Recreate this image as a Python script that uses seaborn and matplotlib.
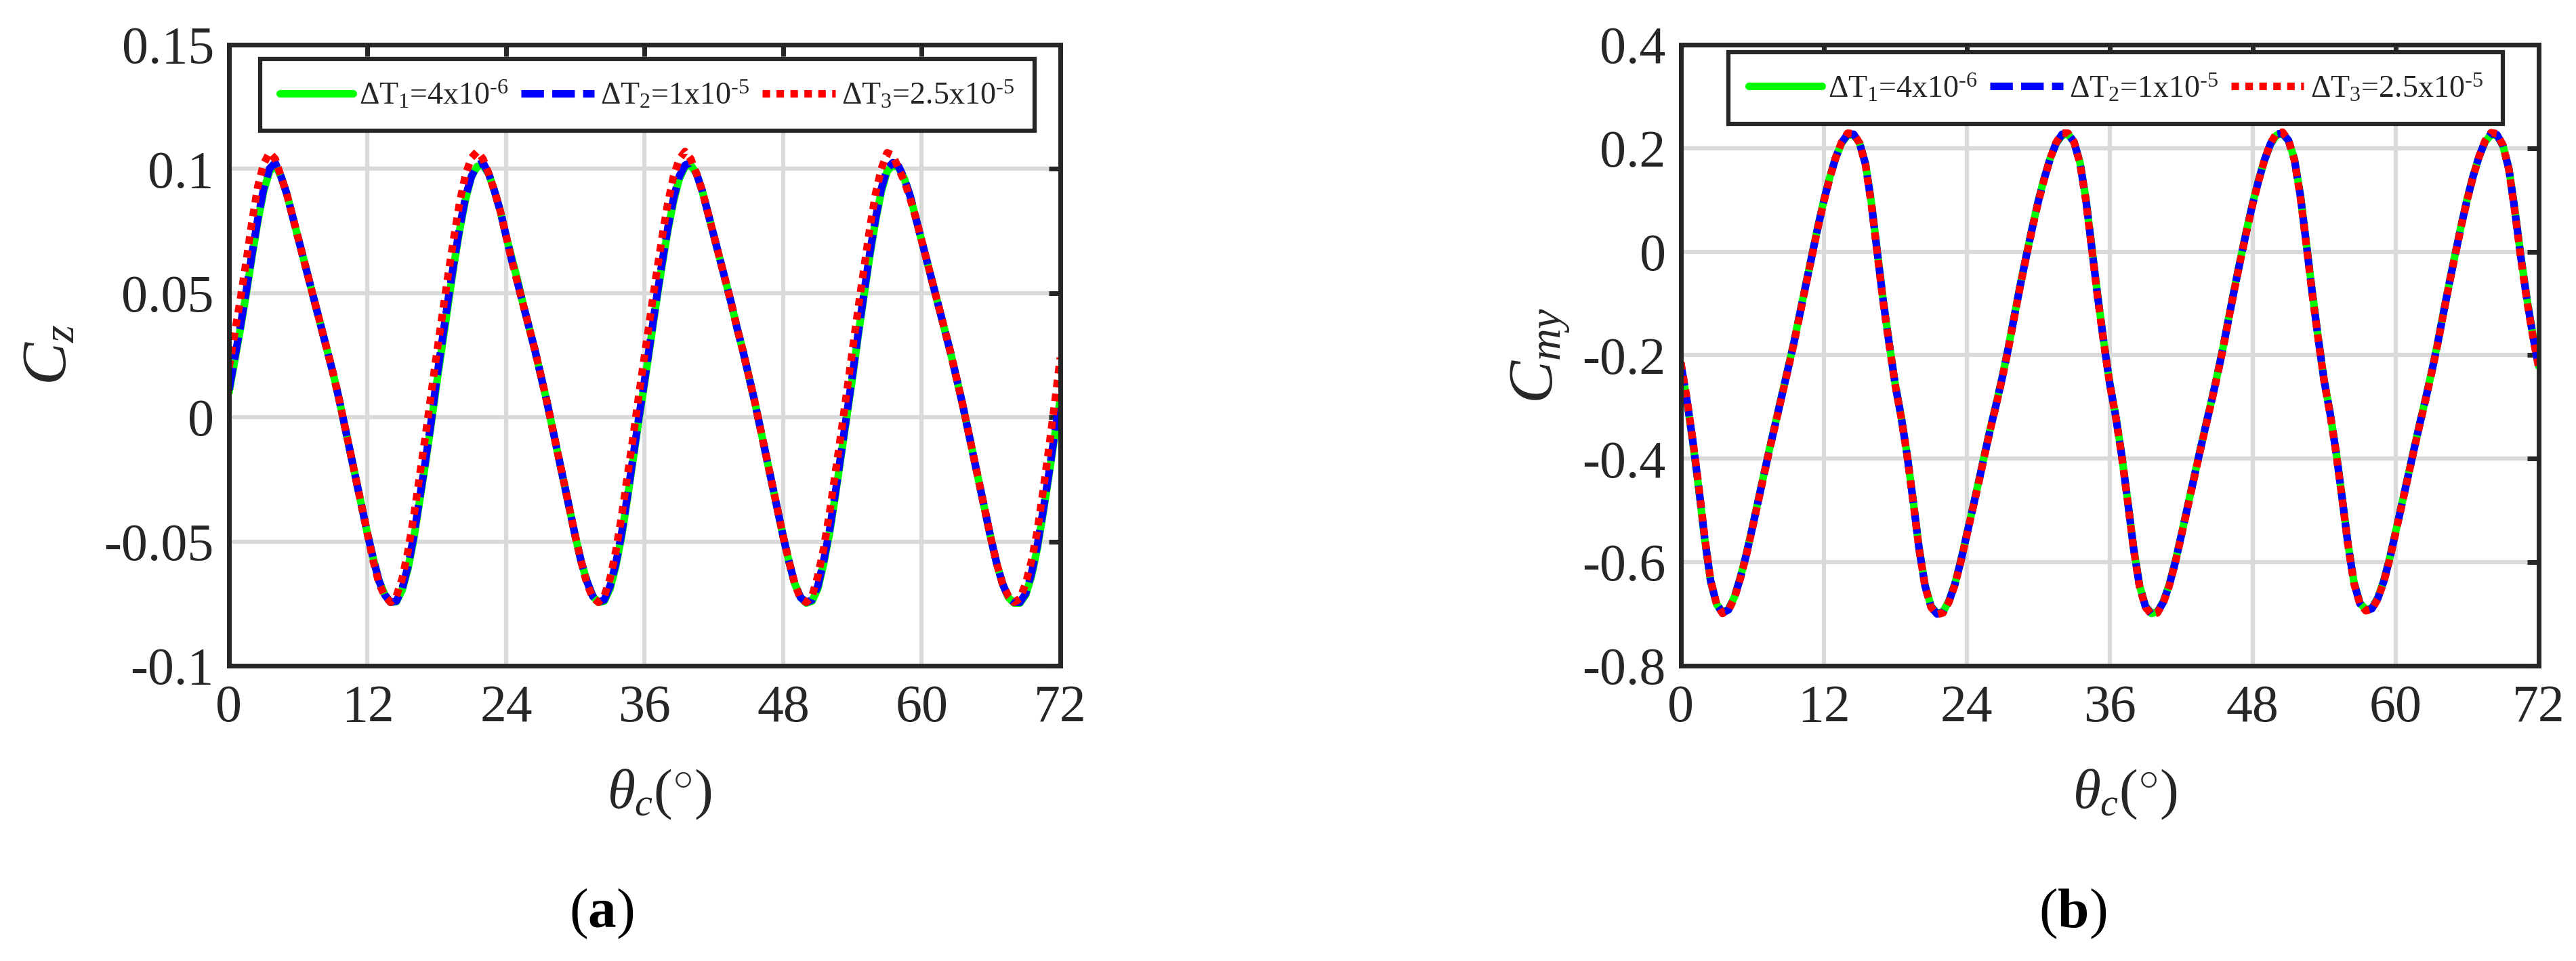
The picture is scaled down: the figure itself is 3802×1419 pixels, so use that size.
import numpy as np
import matplotlib
matplotlib.use("Agg")
import matplotlib.pyplot as plt
import seaborn as sns

# crank angle grid (deg), 0.5 deg steps
THETA = np.arange(0, 72.5, 0.5)

# lift coefficient Cz, one list per time step
cz_dt1 = [
    0.010, 0.023, 0.036, 0.050, 0.065, 0.079, 0.091, 0.099, 0.1015, 0.097, 0.090, 0.081,
    0.072, 0.063, 0.054, 0.045, 0.036, 0.027, 0.018, 0.008, -0.003, -0.014, -0.025, -0.036,
    -0.047, -0.057, -0.066, -0.0715, -0.0745, -0.0742, -0.0695, -0.061, -0.049, -0.034, -0.019, -0.003,
    0.014, 0.030, 0.046, 0.062, 0.076, 0.088, 0.097, 0.101, 0.1015, 0.098, 0.091, 0.083,
    0.073, 0.064, 0.055, 0.045, 0.036, 0.027, 0.017, 0.007, -0.004, -0.015, -0.026, -0.037,
    -0.048, -0.058, -0.066, -0.072, -0.0745, -0.074, -0.069, -0.060, -0.048, -0.033, -0.017, -0.001,
    0.014, 0.030, 0.046, 0.061, 0.075, 0.087, 0.096, 0.101, 0.1015, 0.098, 0.091, 0.082,
    0.073, 0.064, 0.055, 0.046, 0.036, 0.027, 0.017, 0.007, -0.004, -0.015, -0.026, -0.037,
    -0.048, -0.058, -0.067, -0.0725, -0.0748, -0.074, -0.069, -0.059, -0.047, -0.032, -0.016, 0.000,
    0.016, 0.033, 0.049, 0.065, 0.079, 0.091, 0.099, 0.1015, 0.1005, 0.096, 0.089, 0.080,
    0.071, 0.062, 0.053, 0.044, 0.035, 0.026, 0.016, 0.006, -0.005, -0.016, -0.027, -0.038,
    -0.049, -0.059, -0.067, -0.0725, -0.0748, -0.0748, -0.0715, -0.064, -0.053, -0.039, -0.024, -0.008,
    0.007,
]
cz_dt2 = [
    0.011, 0.024, 0.037, 0.051, 0.066, 0.080, 0.092, 0.100, 0.1025, 0.097, 0.090, 0.081,
    0.072, 0.063, 0.054, 0.045, 0.036, 0.027, 0.018, 0.008, -0.003, -0.014, -0.025, -0.036,
    -0.047, -0.057, -0.066, -0.0715, -0.0745, -0.074, -0.069, -0.060, -0.048, -0.033, -0.018, -0.002,
    0.016, 0.032, 0.048, 0.063, 0.077, 0.089, 0.097, 0.1015, 0.1025, 0.098, 0.091, 0.083,
    0.073, 0.063, 0.054, 0.045, 0.036, 0.027, 0.017, 0.007, -0.004, -0.015, -0.026, -0.037,
    -0.048, -0.058, -0.066, -0.072, -0.0745, -0.0735, -0.068, -0.059, -0.047, -0.032, -0.016, 0.000,
    0.015, 0.031, 0.047, 0.062, 0.076, 0.088, 0.097, 0.1015, 0.1025, 0.098, 0.091, 0.082,
    0.073, 0.064, 0.055, 0.046, 0.036, 0.027, 0.017, 0.007, -0.004, -0.015, -0.026, -0.037,
    -0.048, -0.058, -0.067, -0.0725, -0.0745, -0.0735, -0.068, -0.058, -0.046, -0.031, -0.015, 0.001,
    0.017, 0.034, 0.050, 0.066, 0.080, 0.092, 0.100, 0.1025, 0.101, 0.096, 0.089, 0.080,
    0.071, 0.062, 0.053, 0.044, 0.035, 0.026, 0.016, 0.006, -0.005, -0.016, -0.027, -0.038,
    -0.049, -0.059, -0.067, -0.0725, -0.0745, -0.0745, -0.071, -0.063, -0.052, -0.038, -0.023, -0.007,
    0.008,
]
cz_dt3 = [
    0.020, 0.034, 0.048, 0.063, 0.079, 0.093, 0.102, 0.1065, 0.104, 0.097, 0.090, 0.081,
    0.072, 0.063, 0.054, 0.045, 0.036, 0.027, 0.018, 0.008, -0.003, -0.014, -0.025, -0.036,
    -0.047, -0.058, -0.067, -0.072, -0.0745, -0.072, -0.065, -0.054, -0.040, -0.024, -0.008, 0.009,
    0.026, 0.042, 0.058, 0.073, 0.087, 0.098, 0.1045, 0.107, 0.104, 0.098, 0.091, 0.083,
    0.073, 0.063, 0.054, 0.045, 0.036, 0.027, 0.017, 0.007, -0.004, -0.015, -0.026, -0.037,
    -0.048, -0.058, -0.067, -0.0725, -0.0745, -0.072, -0.065, -0.054, -0.040, -0.024, -0.008, 0.009,
    0.025, 0.041, 0.057, 0.072, 0.086, 0.097, 0.104, 0.107, 0.104, 0.098, 0.091, 0.082,
    0.073, 0.064, 0.055, 0.046, 0.036, 0.027, 0.017, 0.007, -0.004, -0.015, -0.026, -0.037,
    -0.048, -0.058, -0.067, -0.073, -0.0745, -0.072, -0.064, -0.053, -0.039, -0.023, -0.007, 0.010,
    0.027, 0.044, 0.060, 0.076, 0.090, 0.100, 0.1065, 0.1055, 0.100, 0.095, 0.088, 0.080,
    0.071, 0.062, 0.053, 0.044, 0.035, 0.026, 0.016, 0.006, -0.005, -0.016, -0.027, -0.038,
    -0.049, -0.059, -0.067, -0.072, -0.0745, -0.073, -0.067, -0.058, -0.046, -0.030, -0.013, 0.005,
    0.024,
]

# pitching moment coefficient Cmy
cmy_dt1 = [
    -0.218, -0.287, -0.367, -0.457, -0.555, -0.637, -0.681, -0.697, -0.691, -0.667, -0.629, -0.584,
    -0.533, -0.480, -0.427, -0.375, -0.325, -0.275, -0.225, -0.174, -0.118, -0.062, -0.007, 0.048,
    0.099, 0.144, 0.182, 0.210, 0.225, 0.226, 0.210, 0.170, 0.094, -0.002, -0.096, -0.179,
    -0.257, -0.319, -0.393, -0.481, -0.573, -0.645, -0.685, -0.699, -0.696, -0.675, -0.642, -0.597,
    -0.546, -0.495, -0.444, -0.391, -0.339, -0.291, -0.240, -0.184, -0.123, -0.063, -0.007, 0.047,
    0.098, 0.142, 0.180, 0.209, 0.225, 0.227, 0.212, 0.173, 0.102, 0.008, -0.087, -0.174,
    -0.254, -0.317, -0.392, -0.480, -0.572, -0.645, -0.685, -0.699, -0.696, -0.676, -0.643, -0.599,
    -0.548, -0.496, -0.444, -0.392, -0.341, -0.292, -0.241, -0.186, -0.126, -0.067, -0.011, 0.043,
    0.094, 0.139, 0.178, 0.208, 0.225, 0.228, 0.215, 0.179, 0.110, 0.017, -0.078, -0.167,
    -0.249, -0.312, -0.387, -0.474, -0.565, -0.639, -0.679, -0.692, -0.689, -0.669, -0.636, -0.592,
    -0.541, -0.489, -0.437, -0.385, -0.334, -0.285, -0.234, -0.179, -0.119, -0.060, -0.004, 0.051,
    0.102, 0.146, 0.184, 0.212, 0.226, 0.225, 0.205, 0.161, 0.082, -0.008, -0.088, -0.159,
    -0.221,
]
cmy_dt2 = [
    -0.216, -0.285, -0.365, -0.455, -0.553, -0.636, -0.681, -0.698, -0.692, -0.668, -0.630, -0.585,
    -0.534, -0.481, -0.428, -0.376, -0.326, -0.276, -0.226, -0.175, -0.119, -0.063, -0.008, 0.047,
    0.098, 0.143, 0.182, 0.211, 0.227, 0.227, 0.210, 0.169, 0.092, -0.004, -0.098, -0.180,
    -0.258, -0.320, -0.394, -0.482, -0.574, -0.646, -0.686, -0.700, -0.697, -0.676, -0.643, -0.598,
    -0.547, -0.496, -0.445, -0.392, -0.340, -0.292, -0.241, -0.185, -0.124, -0.064, -0.008, 0.046,
    0.097, 0.141, 0.180, 0.210, 0.227, 0.228, 0.212, 0.172, 0.100, 0.006, -0.089, -0.175,
    -0.255, -0.318, -0.393, -0.481, -0.573, -0.646, -0.686, -0.700, -0.697, -0.677, -0.644, -0.600,
    -0.549, -0.497, -0.445, -0.393, -0.342, -0.293, -0.242, -0.187, -0.127, -0.068, -0.012, 0.042,
    0.093, 0.138, 0.178, 0.209, 0.227, 0.229, 0.215, 0.178, 0.108, 0.015, -0.080, -0.168,
    -0.250, -0.313, -0.388, -0.475, -0.566, -0.640, -0.680, -0.693, -0.690, -0.670, -0.637, -0.593,
    -0.542, -0.490, -0.438, -0.386, -0.335, -0.286, -0.235, -0.180, -0.120, -0.061, -0.005, 0.050,
    0.101, 0.146, 0.184, 0.213, 0.228, 0.226, 0.205, 0.160, 0.080, -0.010, -0.090, -0.160,
    -0.222,
]
cmy_dt3 = [
    -0.214, -0.283, -0.363, -0.453, -0.551, -0.635, -0.681, -0.699, -0.693, -0.669, -0.631, -0.586,
    -0.535, -0.482, -0.429, -0.377, -0.327, -0.277, -0.227, -0.176, -0.120, -0.064, -0.009, 0.046,
    0.097, 0.142, 0.182, 0.212, 0.229, 0.228, 0.210, 0.168, 0.090, -0.006, -0.100, -0.181,
    -0.259, -0.321, -0.395, -0.483, -0.575, -0.647, -0.687, -0.701, -0.698, -0.677, -0.644, -0.599,
    -0.548, -0.497, -0.446, -0.393, -0.341, -0.293, -0.242, -0.186, -0.125, -0.065, -0.009, 0.045,
    0.096, 0.140, 0.180, 0.211, 0.229, 0.229, 0.212, 0.171, 0.098, 0.004, -0.091, -0.176,
    -0.256, -0.319, -0.394, -0.482, -0.574, -0.647, -0.687, -0.701, -0.698, -0.678, -0.645, -0.601,
    -0.550, -0.498, -0.446, -0.394, -0.343, -0.294, -0.243, -0.188, -0.128, -0.069, -0.013, 0.041,
    0.092, 0.137, 0.178, 0.210, 0.229, 0.231, 0.216, 0.177, 0.106, 0.013, -0.082, -0.169,
    -0.251, -0.314, -0.389, -0.476, -0.567, -0.641, -0.681, -0.694, -0.691, -0.671, -0.638, -0.594,
    -0.543, -0.491, -0.439, -0.387, -0.336, -0.287, -0.236, -0.181, -0.121, -0.062, -0.006, 0.049,
    0.100, 0.145, 0.184, 0.214, 0.230, 0.228, 0.206, 0.159, 0.078, -0.012, -0.092, -0.162,
    -0.223,
]

LABELS = [r"$\Delta\mathrm{T}_1$=4x10$^{\text{-}6}$",
          r"$\Delta\mathrm{T}_2$=1x10$^{\text{-}5}$",
          r"$\Delta\mathrm{T}_3$=2.5x10$^{\text{-}5}$"]
COLORS = ["#00ff00", "#0000ff", "#ff0000"]
STYLES = ["-", (0, (3.0, 1.1)), (0, (1.0, 0.85))]

X_TICKS = [0, 12, 24, 36, 48, 60, 72]
CZ_TICKS = [-0.1, -0.05, 0, 0.05, 0.1, 0.15]
CZ_TICKLABELS = ["-0.1", "-0.05", "0", "0.05", "0.1", "0.15"]
CMY_TICKS = [-0.8, -0.6, -0.4, -0.2, 0, 0.2, 0.4]
CMY_TICKLABELS = ["-0.8", "-0.6", "-0.4", "-0.2", "0", "0.2", "0.4"]

sns.set_style("white")
plt.rcParams["font.family"] = ["Liberation Serif", "DejaVu Serif"]
plt.rcParams["mathtext.fontset"] = "custom"
plt.rcParams["mathtext.rm"] = "Liberation Serif"
plt.rcParams["mathtext.it"] = "Liberation Serif:italic"
plt.rcParams["mathtext.bf"] = "Liberation Serif:bold"

DARK = "#262626"

fig = plt.figure(figsize=(38.02, 14.19), dpi=100)
ax_a = fig.add_axes([0.0889, 0.3073, 0.3227, 0.6462])
ax_b = fig.add_axes([0.6525, 0.3073, 0.3330, 0.6462])

panels = [
    (ax_a, [cz_dt1, cz_dt2, cz_dt3], CZ_TICKS, CZ_TICKLABELS, r"$C_z$",
     (-0.18, 0.5), (0.503, 0.977)),
    (ax_b, [cmy_dt1, cmy_dt2, cmy_dt3], CMY_TICKS, CMY_TICKLABELS, r"$C_{my}$",
     (-0.127, 0.5), (0.507, 0.988)),
]

for ax, curves, yt, ytl, ylab, ylab_pos, leg_pos in panels:
    for y, lab, col, ls in zip(curves, LABELS, COLORS, STYLES):
        sns.lineplot(x=THETA, y=y, ax=ax, color=col, linestyle=ls, linewidth=8,
                     label=lab, estimator=None, sort=False)

    ax.set_xlim(0, 72)
    ax.set_ylim(yt[0], yt[-1])
    ax.set_xticks(X_TICKS)
    ax.set_xticklabels([str(t) for t in X_TICKS])
    ax.set_yticks(yt)
    ax.set_yticklabels(ytl)
    ax.set_axisbelow(True)
    ax.grid(True, color="#dadada", linewidth=4.5)
    for sp in ax.spines.values():
        sp.set_visible(True)
        sp.set_linewidth(5)
        sp.set_color(DARK)
    ax.tick_params(direction="in", length=12, width=5, color=DARK, labelcolor=DARK,
                   top=True, right=True, labelsize=56)
    ax.tick_params(axis="x", pad=20)
    ax.tick_params(axis="y", pad=16)

    ax.set_ylabel(ylab, fontsize=68, color=DARK)
    ax.yaxis.set_label_coords(*ylab_pos)
    ax.set_xlabel(r"$\theta_c(^{\circ})$", fontsize=60, color=DARK)
    ax.xaxis.set_label_coords(0.518, -0.165)

    leg = ax.legend(loc="upper center", bbox_to_anchor=leg_pos, ncol=3, fontsize=33,
                    frameon=True, fancybox=False, framealpha=1, edgecolor=DARK,
                    handlelength=2.35, handletextpad=0.2, columnspacing=0.4,
                    borderpad=0.65, borderaxespad=0)
    leg.get_frame().set_linewidth(4.5)

fig.text(888 / 3802, 1 - 1349 / 1419, r"($\mathbf{a}$)", fontsize=60,
         ha="center", va="center", color="black")
fig.text(3059 / 3802, 1 - 1349 / 1419, r"($\mathbf{b}$)", fontsize=60,
         ha="center", va="center", color="black")

fig.savefig("out.png", dpi=100, facecolor="white")
